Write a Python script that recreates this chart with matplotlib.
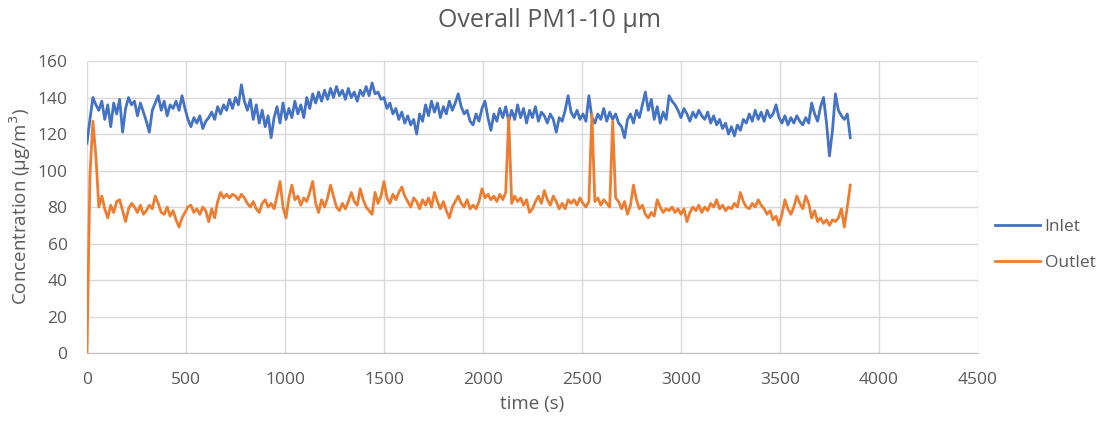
import numpy as np
import matplotlib
matplotlib.use("Agg")
import matplotlib.pyplot as plt

# Sampling grid (s)
time_s = np.arange(0, 3856, 15)

# PM1-10 concentration at the inlet (ug/m3)
inlet = [
    115, 128, 140, 136, 133, 138, 128, 136, 124, 137, 131, 139, 121, 134, 140, 136, 138, 130, 137, 132,
    127, 121, 133, 137, 141, 133, 138, 130, 136, 134, 138, 133, 141, 134, 128, 124, 129, 126, 130, 123,
    127, 129, 132, 128, 135, 131, 136, 133, 139, 134, 140, 136, 147, 138, 133, 139, 128, 136, 126, 133,
    124, 130, 118, 129, 135, 126, 137, 128, 134, 129, 138, 131, 136, 129, 140, 134, 142, 137, 143, 138,
    144, 139, 145, 140, 146, 141, 144, 139, 145, 140, 143, 138, 144, 141, 146, 141, 148, 142, 143, 139,
    140, 134, 137, 131, 134, 128, 132, 126, 130, 125, 128, 120, 131, 127, 136, 130, 138, 132, 137, 129,
    135, 131, 138, 133, 137, 142, 135, 131, 133, 127, 125, 131, 127, 134, 138, 129, 122, 131, 127, 134,
    129, 135, 127, 133, 128, 136, 129, 134, 126, 133, 129, 135, 127, 132, 130, 126, 131, 128, 121, 129,
    127, 133, 141, 132, 129, 133, 128, 131, 127, 141, 129, 126, 131, 128, 134, 127, 132, 128, 131, 126,
    124, 118, 128, 131, 126, 133, 129, 136, 143, 133, 139, 128, 135, 126, 132, 128, 141, 138, 136, 133,
    129, 134, 131, 127, 132, 129, 133, 130, 128, 132, 126, 130, 125, 128, 123, 126, 120, 124, 119, 125,
    122, 128, 126, 131, 127, 133, 128, 132, 127, 133, 129, 131, 136, 129, 126, 130, 125, 129, 126, 130,
    127, 125, 129, 126, 137, 131, 127, 135, 140, 126, 108, 122, 142, 133, 130, 128, 131, 118,
]

# PM1-10 concentration at the outlet (ug/m3)
outlet = [
    0, 97, 127, 108, 80, 86, 79, 74, 81, 77, 83, 84, 78, 72, 79, 82, 80, 77, 81, 76,
    78, 81, 79, 86, 82, 77, 76, 80, 75, 78, 73, 69, 74, 77, 80, 81, 77, 79, 76, 80,
    78, 72, 79, 74, 83, 88, 85, 87, 85, 87, 86, 84, 87, 85, 82, 80, 83, 79, 77, 82,
    84, 80, 82, 79, 86, 94, 80, 74, 85, 92, 84, 86, 81, 85, 83, 88, 94, 82, 77, 84,
    80, 85, 92, 86, 80, 78, 82, 79, 83, 88, 83, 81, 90, 84, 80, 78, 76, 88, 82, 86,
    94, 85, 82, 87, 84, 88, 91, 86, 83, 80, 85, 83, 79, 84, 81, 85, 80, 88, 83, 79,
    83, 78, 74, 80, 83, 86, 82, 80, 84, 79, 81, 79, 83, 90, 85, 87, 84, 86, 83, 87,
    84, 88, 129, 82, 86, 83, 85, 81, 84, 77, 79, 83, 86, 82, 89, 84, 81, 86, 83, 79,
    82, 79, 84, 82, 84, 81, 85, 82, 80, 83, 131, 83, 85, 81, 84, 82, 80, 127, 85, 83,
    79, 83, 76, 81, 92, 84, 79, 81, 76, 74, 77, 75, 84, 80, 77, 79, 78, 80, 77, 79,
    76, 79, 72, 77, 80, 78, 81, 77, 80, 78, 82, 80, 84, 79, 81, 78, 80, 79, 82, 80,
    88, 83, 80, 79, 82, 80, 84, 81, 79, 76, 78, 73, 75, 70, 76, 84, 79, 76, 80, 86,
    82, 79, 86, 82, 74, 78, 72, 74, 71, 73, 70, 73, 72, 74, 79, 69, 80, 92,
]

x_ticks = [0, 500, 1000, 1500, 2000, 2500, 3000, 3500, 4000, 4500]
y_ticks = [0, 20, 40, 60, 80, 100, 120, 140, 160]

text_color = "#595959"
grid_color = "#d9d9d9"
plt.rcParams["font.family"] = ["Open Sans", "DejaVu Sans"]

fig = plt.figure(figsize=(10.98, 4.25), dpi=100)
ax = fig.add_axes([0.0792, 0.1694, 0.8115, 0.687])

ax.plot(time_s, inlet, color="#4472C4", lw=2.0, label="Inlet", solid_joinstyle="round")
ax.plot(time_s, outlet, color="#ED7D31", lw=2.0, label="Outlet", solid_joinstyle="round")

ax.set_xlim(0, 4500)
ax.set_ylim(0, 160)
ax.set_xticks(x_ticks)
ax.set_yticks(y_ticks)
ax.grid(True, color=grid_color, lw=1.0)
ax.set_axisbelow(True)
for side in ["top", "right", "left"]:
    ax.spines[side].set_visible(False)
ax.spines["bottom"].set_color("#bfbfbf")
ax.tick_params(axis="both", length=0, colors=text_color, labelsize=12.5)
ax.tick_params(axis="x", pad=14)
ax.tick_params(axis="y", pad=14)

ax.set_xlabel("time (s)", color=text_color, fontsize=13.5, labelpad=5)
ax.set_ylabel("Concentration (µg/m$^3$)", color=text_color, fontsize=13.5, labelpad=3)
fig.suptitle("Overall PM1-10 µm", color=text_color, fontsize=18, y=0.982)

leg = ax.legend(loc="center left", bbox_to_anchor=(0.892, 0.4235),
                bbox_transform=fig.transFigure, frameon=False,
                fontsize=12.5, labelcolor=text_color, handlelength=2.6,
                labelspacing=1.15, handletextpad=0.25)

fig.savefig("out.png", dpi=100)
